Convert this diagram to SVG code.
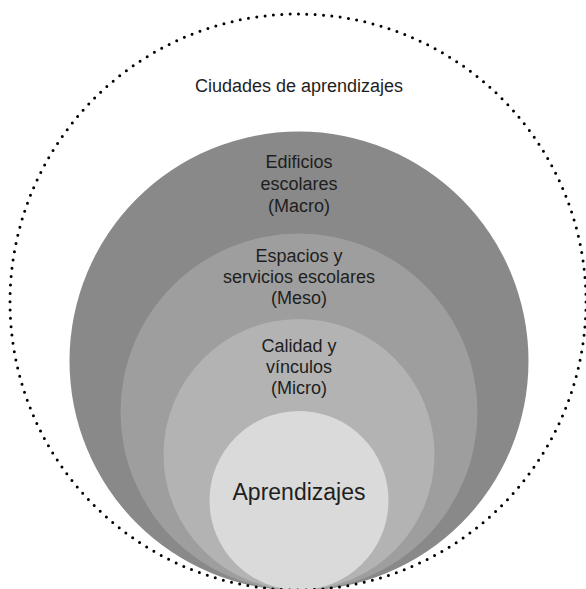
<svg xmlns="http://www.w3.org/2000/svg" width="586" height="589" viewBox="0 0 586 589">
<style>
text{font-family:"Liberation Sans",Arial,sans-serif;fill:#1e1e1e;text-anchor:middle}
.lbl{font-size:18px}
.big{font-size:23px}
</style>
<rect width="586" height="589" fill="#ffffff"/>
<g id="macro"><circle cx="299" cy="361" r="229.5" fill="#898989"/>
<text class="lbl" x="299" y="167.5">Edificios</text>
<text class="lbl" x="299" y="190">escolares</text>
<text class="lbl" x="299" y="212">(Macro)</text></g>
<g id="meso"><circle cx="299" cy="412" r="178.5" fill="#9e9e9e"/>
<text class="lbl" x="299" y="261.5">Espacios y</text>
<text class="lbl" x="299" y="283">servicios escolares</text>
<text class="lbl" x="299" y="304">(Meso)</text></g>
<g id="micro"><circle cx="299" cy="454.5" r="135.5" fill="#b3b3b3"/>
<text class="lbl" x="299" y="351.5">Calidad y</text>
<text class="lbl" x="299" y="372.5">vínculos</text>
<text class="lbl" x="299" y="394">(Micro)</text></g>
<g id="aprendizajes"><circle cx="299" cy="500.5" r="89.5" fill="#dadada"/>
<text class="big" x="299" y="500">Aprendizajes</text></g>
<g id="ciudades"><circle cx="298" cy="302" r="288" fill="none" stroke="#000" stroke-width="3" stroke-linecap="round" stroke-dasharray="0 8.377"/>
<text class="lbl" x="299" y="92">Ciudades de aprendizajes</text></g>
</svg>
